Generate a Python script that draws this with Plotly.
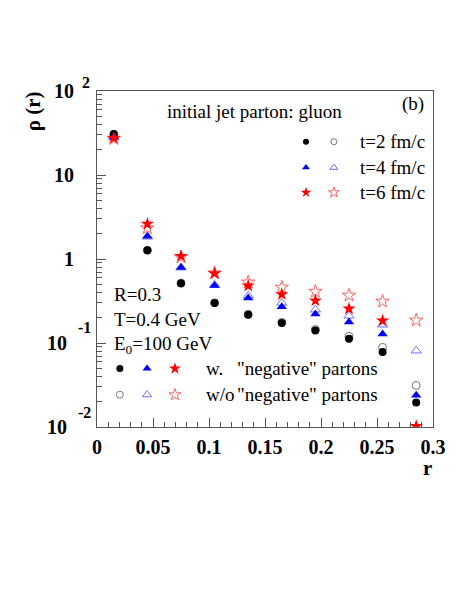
import plotly.graph_objects as go

# radial bins
r = [0.015, 0.045, 0.075, 0.105, 0.135, 0.165, 0.195, 0.225, 0.255, 0.285]

# rho(r) with "negative" partons (filled)
rho_t2_w = [30.8, 1.27, 0.515, 0.30, 0.217, 0.173, 0.141, 0.112, 0.078, 0.0196]
rho_t4_w = [28.3, 1.86, 0.79, 0.483, 0.343, 0.27, 0.221, 0.178, 0.128, 0.0238]
rho_t6_w = [27.6, 2.61, 1.08, 0.675, 0.48, 0.38, 0.32, 0.256, 0.184, 0.0102]

# rho(r) without "negative" partons (open)
rho_t2_wo = [30.4, 1.27, 0.515, 0.30, 0.22, 0.176, 0.145, 0.12, 0.0887, 0.0313]
rho_t4_wo = [28.0, 1.84, 0.79, 0.49, 0.365, 0.30, 0.249, 0.211, 0.165, 0.081]
rho_t6_wo = [27.0, 2.34, 1.05, 0.68, 0.53, 0.46, 0.41, 0.369, 0.313, 0.186]

times = ["t=2 fm/c", "t=4 fm/c", "t=6 fm/c"]
y_ticks = [0.01, 0.1, 1, 10, 100]
y_minor = [m * 10.0 ** e for e in range(-2, 2) for m in range(2, 10)]

SERIF = "Liberation Serif"
filled_cols = ["black", "#0000ff", "#ff0000"]
open_cols = ["#777777", "#7070ff", "#ff6060"]
filled_sym = ["circle", "triangle-up", "star"]
open_sym = ["circle-open", "triangle-up-open", "star-open"]
sizes = [8, 9, 10]

fig = go.Figure()

for ys, col, sym, sz in zip([rho_t2_wo, rho_t4_wo, rho_t6_wo], open_cols, open_sym, sizes):
    fig.add_trace(go.Scatter(x=r, y=ys, mode="markers",
                             marker=dict(symbol=sym, size=sz, color=col, line=dict(width=1, color=col))))
for ys, col, sym, sz in zip([rho_t2_w, rho_t4_w, rho_t6_w], filled_cols, filled_sym, sizes):
    fig.add_trace(go.Scatter(x=r, y=ys, mode="markers",
                             marker=dict(symbol=sym, size=sz, color=col, line=dict(width=0))))

# legend keys drawn on a hidden overlay axis (0..1 over the frame)
key_rows = [0.849, 0.772, 0.698]
for i in range(3):
    fig.add_trace(go.Scatter(x=[0.622], y=[key_rows[i]], xaxis="x2", yaxis="y2", mode="markers",
                             marker=dict(symbol=filled_sym[i], size=sizes[i] - 2, color=filled_cols[i])))
    fig.add_trace(go.Scatter(x=[0.705], y=[key_rows[i]], xaxis="x2", yaxis="y2", mode="markers",
                             marker=dict(symbol=open_sym[i], size=sizes[i] - 2, color=open_cols[i],
                                         line=dict(width=1, color=open_cols[i]))))
key_x = [0.068, 0.149, 0.232]
for i in range(3):
    fig.add_trace(go.Scatter(x=[key_x[i]], y=[0.174], xaxis="x2", yaxis="y2", mode="markers",
                             marker=dict(symbol=filled_sym[i], size=sizes[i] - 1, color=filled_cols[i])))
    fig.add_trace(go.Scatter(x=[key_x[i]], y=[0.096], xaxis="x2", yaxis="y2", mode="markers",
                             marker=dict(symbol=open_sym[i], size=sizes[i] - 1, color=open_cols[i],
                                         line=dict(width=1, color=open_cols[i]))))

axis_col = "#555555"
# page body has an 8px default margin, so the figure is shrunk by that much
fig.update_layout(
    width=455, height=591,
    margin=dict(l=89, r=30, t=83, b=172),
    paper_bgcolor="white", plot_bgcolor="white",
    showlegend=False,
    font=dict(family=SERIF, color="black"),
    xaxis=dict(range=[0, 0.3], tickvals=[0, 0.05, 0.1, 0.15, 0.2, 0.25, 0.3],
               ticktext=["0", "0.05", "0.1", "0.15", "0.2", "0.25", "0.3"],
               ticks="inside", ticklen=9, tickcolor=axis_col,
               minor=dict(dtick=0.01, ticks="inside", ticklen=5, tickcolor=axis_col, showgrid=False),
               showline=True, linecolor=axis_col, linewidth=1, mirror=True,
               showgrid=False, zeroline=False,
               tickfont=dict(family=SERIF, size=20, weight="bold"), ticklabelstandoff=2),
    yaxis=dict(type="log", range=[-2, 2], tickvals=y_ticks, showticklabels=False,
               ticks="inside", ticklen=9, tickcolor=axis_col,
               minor=dict(tickmode="array", tickvals=y_minor, ticks="inside", ticklen=5,
                          tickcolor=axis_col, showgrid=False),
               showline=True, linecolor=axis_col, linewidth=1, mirror=True,
               showgrid=False, zeroline=False),
    xaxis2=dict(range=[0, 1], overlaying="x", visible=False),
    yaxis2=dict(range=[0, 1], overlaying="y", visible=False),
)

ann = []
# y tick labels (ROOT style 10^n)
bold = dict(family=SERIF, size=20, weight="bold")
expo = dict(family=SERIF, size=16, weight="bold")
ann.append(dict(x=0, y=1, text="10", xanchor="right", xshift=-21))
ann.append(dict(x=0, y=1, text="2", xanchor="left", xshift=-17, yshift=9, font=expo))
ann.append(dict(x=0, y=0.75, text="10", xanchor="right", xshift=-21))
ann.append(dict(x=0, y=0.5, text="1", xanchor="right", xshift=-21))
ann.append(dict(x=0, y=0.25, text="10", xanchor="right", xshift=-28))
ann.append(dict(x=0, y=0.25, text="-1", xanchor="left", xshift=-21, yshift=16, font=expo))
ann.append(dict(x=0, y=0.0, text="10", xanchor="right", xshift=-28))
ann.append(dict(x=0, y=0.0, text="-2", xanchor="left", xshift=-21, yshift=15, font=expo))
for a in ann:
    a.setdefault("font", bold)
    a.update(xref="paper", yref="paper", showarrow=False, yanchor="middle")

txt = dict(family=SERIF, size=19, color="black")
labels = [
    dict(x=0.47, y=0.938, text="initial jet parton: gluon", xanchor="center"),
    dict(x=0.978, y=0.962, text="(b)", xanchor="right"),
    dict(x=0.777, y=key_rows[0], text=times[0], xanchor="left"),
    dict(x=0.777, y=key_rows[1], text=times[1], xanchor="left"),
    dict(x=0.777, y=key_rows[2], text=times[2], xanchor="left"),
    dict(x=0.046, y=0.394, text="R=0.3", xanchor="left"),
    dict(x=0.046, y=0.319, text="T=0.4 GeV", xanchor="left"),
    dict(x=0.046, y=0.245, text="E<sub>0</sub>=100 GeV", xanchor="left"),
    dict(x=0.318, y=0.174, text="w.", xanchor="left"),
    dict(x=0.41, y=0.174, text="\"negative\" partons", xanchor="left"),
    dict(x=0.318, y=0.096, text="w/o", xanchor="left"),
    dict(x=0.41, y=0.096, text="\"negative\" partons", xanchor="left"),
]
for a in labels:
    a.update(xref="paper", yref="paper", showarrow=False, yanchor="middle", font=txt)
ann += labels

# axis titles
ann.append(dict(x=-0.19, y=0.94, xref="paper", yref="paper", text="ρ (r)", textangle=-90,
                xanchor="center", yanchor="middle", showarrow=False,
                font=dict(family=SERIF, size=21, weight="bold")))
ann.append(dict(x=0.985, y=-0.122, xref="paper", yref="paper", text="r", showarrow=False,
                xanchor="center", yanchor="middle",
                font=dict(family=SERIF, size=21, weight="bold")))

fig.update_layout(annotations=ann)
fig.write_html("out.html")
